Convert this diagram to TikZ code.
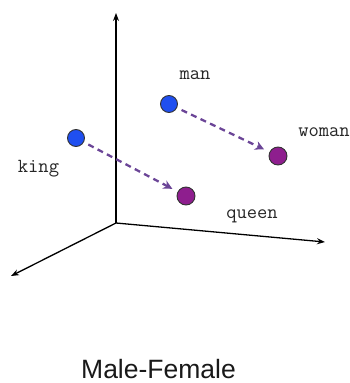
\documentclass[tikz,border=0pt]{standalone}
\usepackage{fontspec}
\setmainfont{Liberation Sans}
\usetikzlibrary{arrows.meta}
\definecolor{dotblue}{HTML}{1F4FF0}
\definecolor{dotpurple}{HTML}{8E1E8E}
\definecolor{arrowpurple}{HTML}{6B4597}
\tikzset{
  axis/.style={line width=1.3pt, -{Stealth[length=8pt,width=6pt]}},
  bluedot/.style={circle, draw=black!80, line width=0.9pt, fill=dotblue, minimum size=17pt, inner sep=0pt},
  purpledot/.style={circle, draw=black!80, line width=0.9pt, fill=dotpurple, minimum size=18pt, inner sep=0pt},
  word/.style={font=\ttfamily\addfontfeature{FakeBold=1.2}\fontsize{20}{20}\selectfont, text=black!85, inner sep=0pt},
  relarrow/.style={draw=arrowpurple, line width=2.3pt, dash pattern=on 6pt off 4.5pt, -{Stealth[length=9pt,width=9pt]}, shorten >=6pt, shorten <=5pt}
}
\begin{document}
\begin{tikzpicture}[x=1pt,y=-1pt]
\useasboundingbox (0,0) rectangle (350,383);
\coordinate (o) at (116,223);
\coordinate (ytop) at (116,13);
\coordinate (xend) at (325,242);
\coordinate (zend) at (11,276);
\draw[axis] (o) -- (ytop);
\draw[axis] (o) -- (xend);
\draw[axis] (o) -- (zend);
\node[bluedot] (man) at (169,104) {};
\node[bluedot] (king) at (76,138) {};
\node[purpledot] (woman) at (278,156) {};
\node[purpledot] (queen) at (186,196) {};
\draw[relarrow] (man) -- (woman);
\draw[relarrow] (king) -- (queen);
\node[word, anchor=base] (lman) at (195,79) {man};
\node[word, anchor=base] (lwoman) at (324,136) {woman};
\node[word, anchor=base] (lking) at (38.5,172) {king};
\node[word, anchor=base] (lqueen) at (252,218) {queen};
\node[font=\fontsize{26.5}{26.5}\selectfont, text=black!90, inner sep=0pt, anchor=base] (title) at (158.5,378) {Male-Female};
\end{tikzpicture}
\end{document}
